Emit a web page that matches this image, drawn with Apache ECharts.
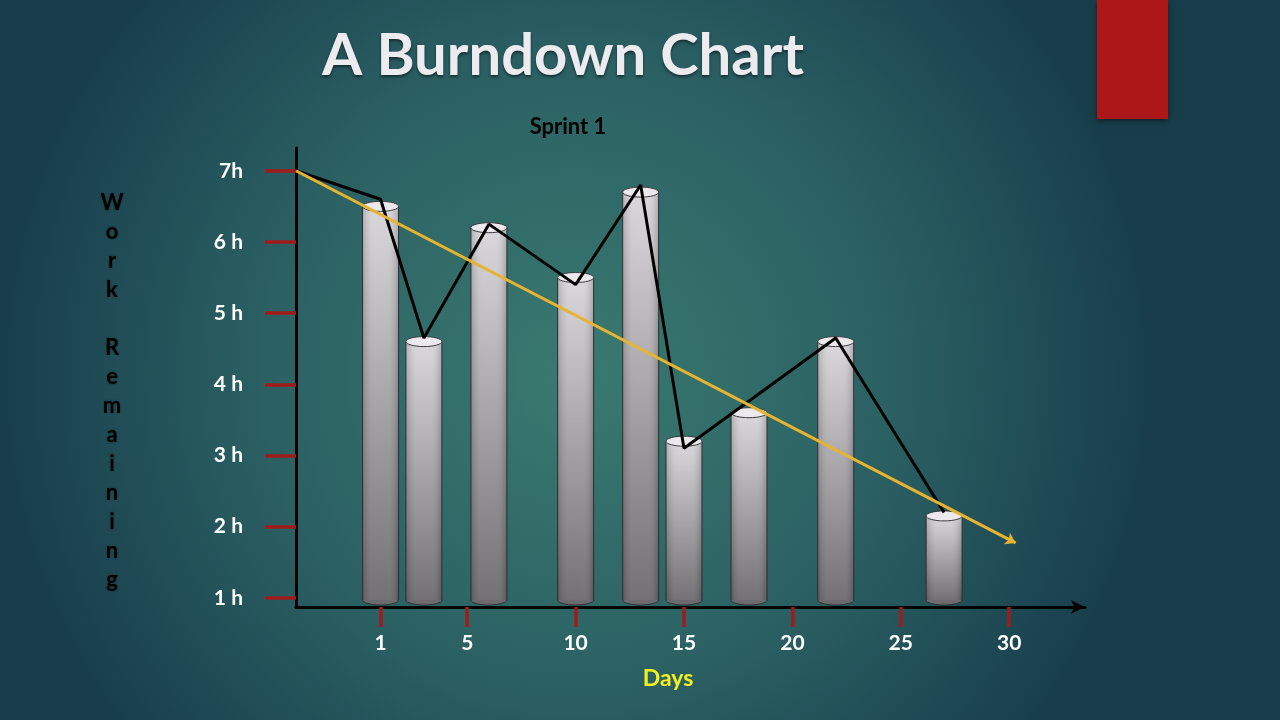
<!DOCTYPE html>
<html>
<head>
<meta charset="utf-8">
<script src="https://cdn.jsdelivr.net/npm/echarts@6/dist/echarts.min.js"></script>
<style>
  html, body { margin: 0; padding: 0; }
  #chart { width: 1280px; height: 720px; }
</style>
</head>
<body>
<div id="chart"></div>
<script>
// sprint data
var barDays = [1, 3, 6, 10, 13, 15, 18, 22, 27];
var barHours = [6.5, 4.6, 6.2, 5.5, 6.7, 3.2, 3.6, 4.6, 2.15];

var actualDays = [-2.9, 1, 3, 6, 10, 13, 15, 22, 27];
var actualHours = [7, 6.6, 4.65, 6.25, 5.4, 6.8, 3.1, 4.65, 2.2];

var idealDays = [-2.9, 30.3];
var idealHours = [7, 1.77];

var dayTicks = [1, 5, 10, 15, 20, 25, 30];
var hourTicks = [1, 2, 3, 4, 5, 6, 7];
var hourLabels = ['1 h', '2 h', '3 h', '4 h', '5 h', '6 h', '7h'];

var xMin = -2.9, xMax = 33.5;
var yMin = 0.87, yMax = 7.32;

var chart = echarts.init(document.getElementById('chart'));

function cylinder(params, api) {
  var top = api.coord([api.value(0), api.value(1)]);
  var base = api.coord([api.value(0), yMin]);
  var w = 36, rx = w / 2, ry = 5;
  var bottom = base[1] - ry - 2;
  var left = top[0] - rx;
  return {
    type: 'group',
    children: [
      {type: 'ellipse', shape: {cx: top[0], cy: bottom, rx: rx, ry: ry},
        style: {fill: '#6c6a6e', stroke: '#2e2e30', lineWidth: 1}},
      {type: 'rect', shape: {x: left, y: top[1], width: w, height: bottom - top[1]},
        style: {fill: new echarts.graphic.LinearGradient(0, 0, 0, 1, [
          {offset: 0, color: '#d8d6da'}, {offset: 1, color: '#6c6a6e'}])}},
      {type: 'rect', shape: {x: left, y: top[1], width: w, height: bottom - top[1]},
        style: {fill: new echarts.graphic.LinearGradient(0, 0, 1, 0, [
          {offset: 0, color: 'rgba(0,0,0,0.18)'}, {offset: 0.3, color: 'rgba(255,255,255,0.05)'},
          {offset: 0.7, color: 'rgba(255,255,255,0.05)'}, {offset: 1, color: 'rgba(0,0,0,0.2)'}])}},
      {type: 'line', shape: {x1: left, y1: top[1], x2: left, y2: bottom},
        style: {stroke: '#2e2e30', lineWidth: 1}},
      {type: 'line', shape: {x1: left + w, y1: top[1], x2: left + w, y2: bottom},
        style: {stroke: '#2e2e30', lineWidth: 1}},
      {type: 'ellipse', shape: {cx: top[0], cy: top[1], rx: rx, ry: ry},
        style: {fill: '#ebe9ed', stroke: '#3a3a3c', lineWidth: 1}}
    ]
  };
}

var option = {
  backgroundColor: new echarts.graphic.RadialGradient(0.45, 0.52, 0.8, [
    {offset: 0, color: '#3a7a70'},
    {offset: 0.55, color: '#2b6063'},
    {offset: 1, color: '#183e4c'}
  ]),
  animation: false,
  grid: {left: 296, right: 195, top: 148, bottom: 113},
  graphic: [
    {type: 'rect', left: 1097, top: 0, shape: {width: 71, height: 119},
      style: {fill: '#ad1717', shadowBlur: 6, shadowColor: 'rgba(0,0,0,0.5)', shadowOffsetY: 2}},
    {type: 'text', x: 563, y: 56,
      style: {text: 'A Burndown Chart', fill: '#ecebf0', font: 'bold 58px Lato',
        textAlign: 'center', textVerticalAlign: 'middle',
        textShadowColor: 'rgba(0,0,0,0.5)', textShadowBlur: 3, textShadowOffsetY: 2}},
    {type: 'text', x: 568, y: 127,
      style: {text: 'Sprint 1', fill: '#000', font: 'bold 22px Lato',
        textAlign: 'center', textVerticalAlign: 'middle'}},
    {type: 'text', x: 668, y: 679,
      style: {text: 'Days', fill: '#f2f21e', font: 'bold 23px Lato',
        textAlign: 'center', textVerticalAlign: 'middle'}},
    {type: 'text', x: 112, y: 188,
      style: {text: 'W\no\nr\nk\n\nR\ne\nm\na\ni\nn\ni\nn\ng', fill: '#000',
        font: 'bold 22px Lato', lineHeight: 29, textAlign: 'center',
        textShadowColor: 'rgba(0,0,0,0.4)', textShadowBlur: 2}}
  ],
  xAxis: {
    type: 'value', min: xMin, max: xMax,
    splitLine: {show: false},
    axisLine: {onZero: false, lineStyle: {color: '#000', width: 3}, symbol: ['none', 'arrow'], symbolSize: [10, 14]},
    axisTick: {show: true, customValues: dayTicks, length: 20, lineStyle: {color: '#a01c1c', width: 3.5}},
    axisLabel: {customValues: dayTicks, color: '#fff', fontWeight: 'bold', fontSize: 21,
      fontFamily: 'Lato', margin: 26}
  },
  yAxis: {
    type: 'value', min: yMin, max: yMax,
    splitLine: {show: false},
    axisLine: {show: true, onZero: false, lineStyle: {color: '#000', width: 3}},
    axisTick: {show: true, customValues: hourTicks, length: 31, lineStyle: {color: '#a01c1c', width: 3.5}},
    axisLabel: {customValues: hourTicks, color: '#fff', fontWeight: 'bold', fontSize: 21,
      fontFamily: 'Lato', margin: 53,
      formatter: function (v) { return hourLabels[hourTicks.indexOf(Math.round(v))]; }}
  },
  series: [
    {
      name: 'Remaining', type: 'custom', renderItem: cylinder,
      data: barDays.map(function (d, i) { return [d, barHours[i]]; }), z: 2
    },
    {
      name: 'Actual', type: 'line', symbol: 'none', z: 3,
      lineStyle: {color: '#000', width: 3},
      data: actualDays.map(function (d, i) { return [d, actualHours[i]]; })
    },
    {
      name: 'Ideal', type: 'line', data: [], z: 4,
      markLine: {
        silent: true, symbol: ['none', 'arrow'], symbolSize: 10,
        label: {show: false},
        lineStyle: {color: '#e6b430', width: 3, type: 'solid'},
        data: [[{coord: [idealDays[0], idealHours[0]]}, {coord: [idealDays[1], idealHours[1]]}]]
      }
    }
  ]
};
chart.setOption(option);
</script>
</body>
</html>
